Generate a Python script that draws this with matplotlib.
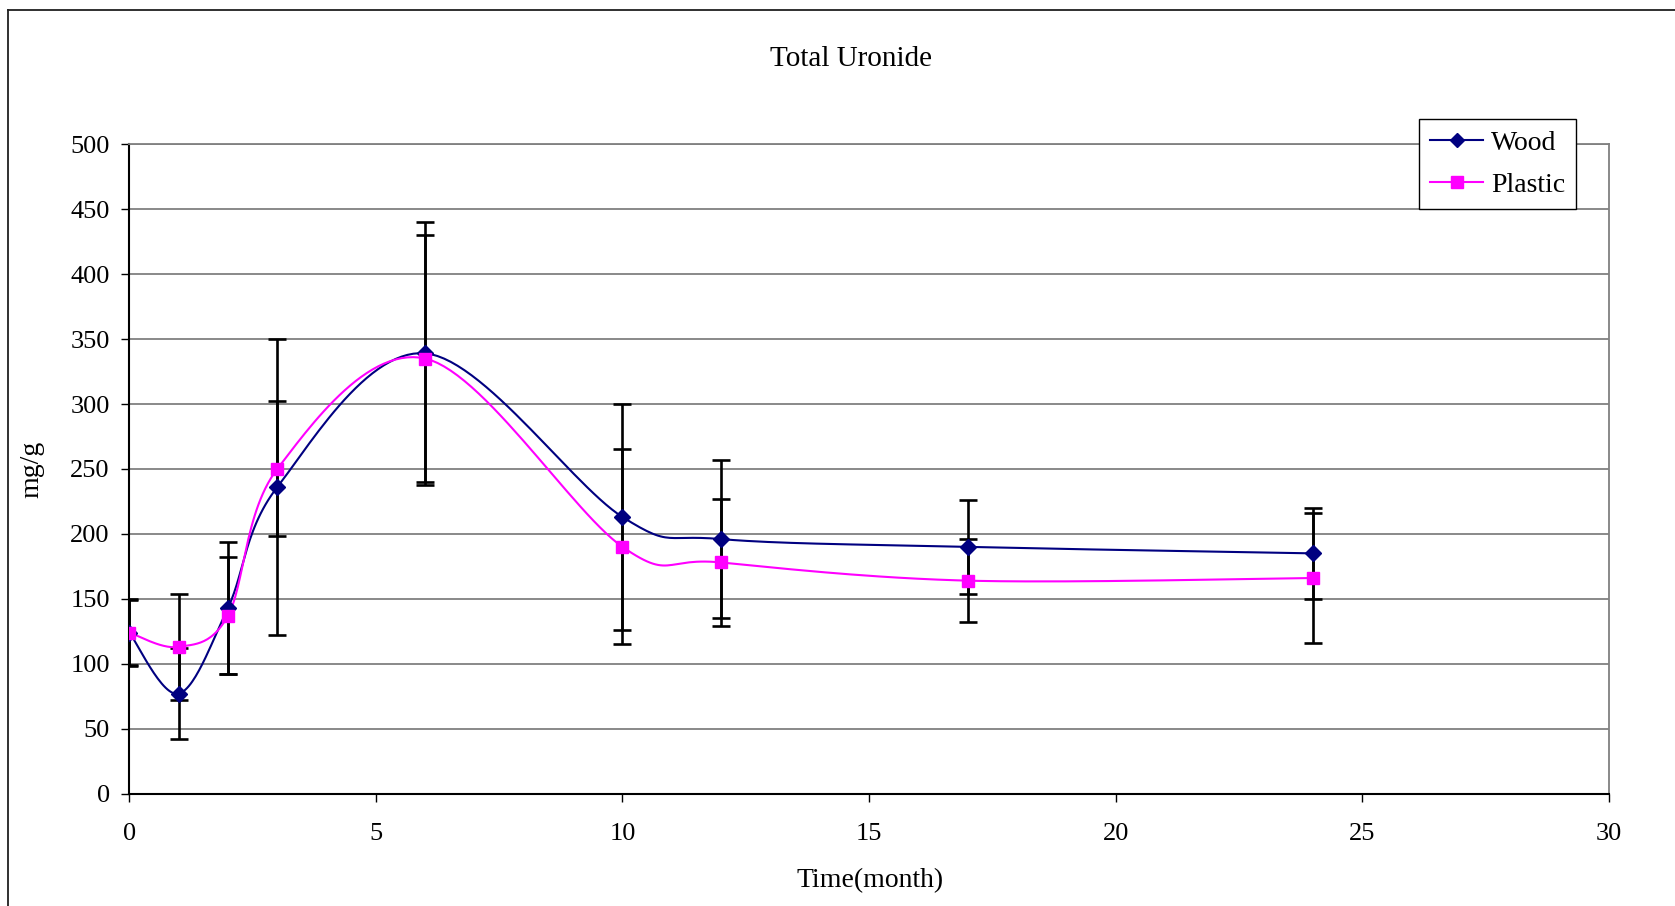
import numpy as np
import matplotlib.pyplot as plt
from matplotlib.lines import Line2D

plt.rcParams['font.family'] = ['Liberation Serif', 'DejaVu Serif']

# data
months = [0, 1, 2, 3, 6, 10, 12, 17, 24]
wood = [124, 77, 143, 236, 339, 213, 196, 190, 185]
plastic = [124, 113, 137, 250, 335, 190, 178, 164, 166]
wood_err = [25, 35, 51, 114, 101, 87, 61, 36, 35]
plastic_err = [26, 41, 45, 52, 95, 75, 49, 32, 50]

x_ticks = [0, 5, 10, 15, 20, 25, 30]
y_ticks = [0, 50, 100, 150, 200, 250, 300, 350, 400, 450, 500]


def smooth(xs, ys, n=30):
    """Excel-style smoothed line: Catmull-Rom bezier through the points."""
    p = np.column_stack([xs, ys]).astype(float)
    p = np.vstack([p[0], p, p[-1]])
    t = np.linspace(0, 1, n)[:, None]
    out = []
    for i in range(1, len(p) - 2):
        p0, p3 = p[i], p[i + 1]
        c1 = p0 + (p[i + 1] - p[i - 1]) / 6
        c2 = p3 - (p[i + 2] - p[i]) / 6
        seg = ((1 - t) ** 3) * p0 + 3 * ((1 - t) ** 2) * t * c1 \
            + 3 * (1 - t) * t ** 2 * c2 + t ** 3 * p3
        out.append(seg)
    out = np.vstack(out)
    return out[:, 0], out[:, 1]


fig = plt.figure(figsize=(16.75, 9.06), dpi=100)
ax = fig.add_axes([0.0772, 0.1240, 0.8833, 0.7168])

# outer chart border (top and left edges only visible)
fig.add_artist(Line2D([8 / 1675, 1.0], [1 - 10 / 906] * 2, transform=fig.transFigure,
                      color='#202020', lw=1.3))
fig.add_artist(Line2D([8 / 1675] * 2, [0, 1 - 10 / 906], transform=fig.transFigure,
                      color='#202020', lw=1.3))

ax.errorbar(months, wood, yerr=wood_err, fmt='none', ecolor='black',
            elinewidth=1.9, capsize=6.5, capthick=1.9, zorder=3)
ax.errorbar(months, plastic, yerr=plastic_err, fmt='none', ecolor='black',
            elinewidth=1.9, capsize=6.5, capthick=1.9, zorder=3)

for ys, col, mk, ms in [(wood, '#000080', 'D', 8), (plastic, '#FF00FF', 's', 9)]:
    sx, sy = smooth(months, ys)
    ax.plot(sx, sy, color=col, lw=1.5, zorder=4)
    ax.plot(months, ys, ls='none', marker=mk, ms=ms, color=col, zorder=5)

handles = [Line2D([], [], color='#000080', lw=1.5, marker='D', ms=7.5),
           Line2D([], [], color='#FF00FF', lw=1.5, marker='s', ms=8.5)]
leg = ax.legend(handles, ['Wood', 'Plastic'], loc='upper left',
                bbox_to_anchor=(0.8717, 1.0383), borderaxespad=0, fontsize=20,
                fancybox=False, framealpha=1, edgecolor='black', handlelength=1.9,
                labelspacing=0.6, borderpad=0.4, handletextpad=0.3)
leg.get_frame().set_linewidth(1.0)

ax.set_xlim(0, 30)
ax.set_ylim(0, 500)
ax.set_xticks(x_ticks)
ax.set_yticks(y_ticks)
ax.tick_params(axis='x', direction='out', length=6, width=1, pad=15, labelsize=19)
ax.tick_params(axis='y', direction='out', length=6, width=1, pad=8, labelsize=19)
ax.grid(axis='y', color='#808080', lw=1.3, zorder=1)
ax.set_axisbelow(True)

for s in ['top', 'right']:
    ax.spines[s].set_color('#808080')
    ax.spines[s].set_linewidth(1.3)
for s in ['left', 'bottom']:
    ax.spines[s].set_color('black')
    ax.spines[s].set_linewidth(1.5)

ax.set_xlabel('Time(month)', fontsize=20)
ax.set_ylabel('mg/g', fontsize=20)
ax.xaxis.set_label_coords(0.5006, -0.114)
ax.yaxis.set_label_coords(-0.0575, 0.5)

fig.text(0.508, 1 - 59 / 906, 'Total Uronide', fontsize=21, ha='center', va='center')

fig.savefig('out.png', dpi=100)
